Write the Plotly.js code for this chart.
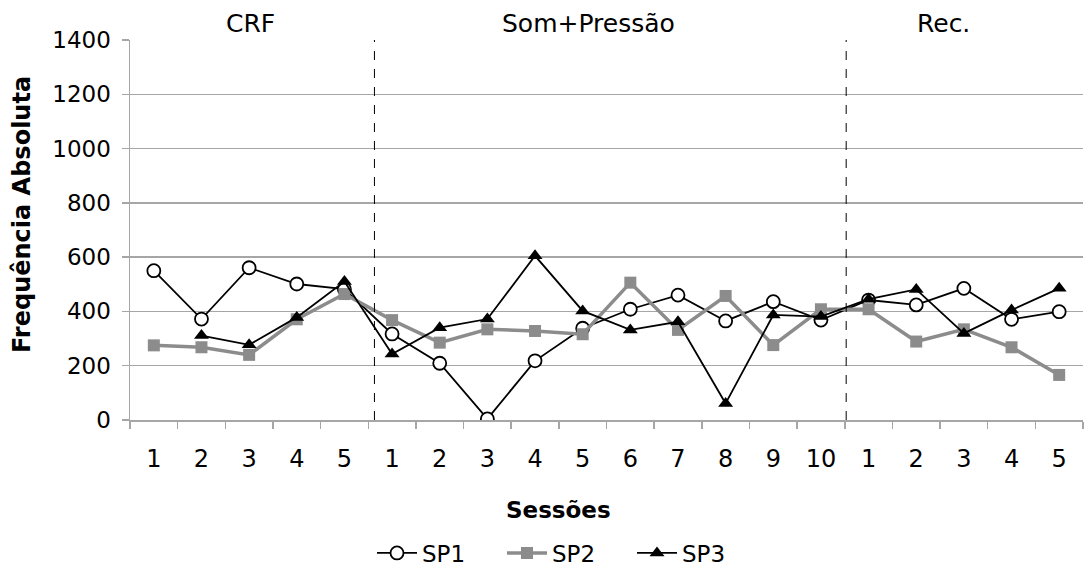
<!DOCTYPE html>
<html><head><meta charset="utf-8">
<script src="https://cdn.plot.ly/plotly-3.0.1.min.js"></script>
<style>html,body{margin:0;padding:0;background:#fff;}</style>
</head><body>
<div id="chart" style="width:1088px;height:572px;"></div>
<script>
const tickLabels = ["1","2","3","4","5","1","2","3","4","5","6","7","8","9","10","1","2","3","4","5"];
const sp1 = [550, 372, 561, 501, 482, 317, 209, 4, 218, 338, 408, 460, 365, 436, 368, 442, 424, 485, 371, 399];
const sp2 = [275, 268, 240, 371, 464, 368, 285, 334, 328, 316, 506, 332, 457, 276, 408, 408, 289, 334, 268, 166];
const sp3 = [null, 311, 277, 378, 510, 243, 340, 372, 605, 402, 332, 362, 61, 387, 381, 445, 481, 319, 405, 485];
const phases = ["CRF", "Som+Pressão", "Rec."];
const phasePos = [2.02, 9.13, 16.58];
const dividers = [4.63, 14.53];

const xs = tickLabels.map((_, i) => i);
const font = "DejaVu Sans, sans-serif";

const traces = [
  {x: xs, y: sp1, name: "SP1", mode: "lines+markers", type: "scatter",
   line: {color: "#000", width: 1.8},
   marker: {symbol: "circle", size: 13, color: "#fff", line: {color: "#000", width: 1.8}}},
  {x: xs, y: sp2, name: "SP2", mode: "lines+markers", type: "scatter",
   line: {color: "#8c8c8c", width: 3.5},
   marker: {symbol: "square", size: 12, color: "#8c8c8c", line: {width: 0}}},
  {x: xs, y: sp3, name: "SP3", mode: "lines+markers", type: "scatter",
   line: {color: "#000", width: 1.8},
   marker: {symbol: "triangle-up", size: 13, color: "#000", line: {width: 0}}}
];

const shapes = dividers.map(d => ({type: "line", xref: "x", yref: "paper", x0: d, x1: d, y0: 0, y1: 1,
  line: {color: "#000", width: 1, dash: "dash"}}));

const annotations = phases.map((p, i) => ({text: p, x: phasePos[i], xref: "x", y: 1, yref: "paper",
  yanchor: "bottom", yshift: 0, showarrow: false, font: {family: font, size: 25, color: "#000"}}));
annotations.push({text: "<b>Sessões</b>", x: (558 - 130) / 953, xref: "paper", y: (420 - 510) / 380, yref: "paper",
  xanchor: "center", yanchor: "middle", showarrow: false, font: {family: font, size: 23, color: "#000"}});
annotations.push({text: "<b>Frequência Absoluta</b>", x: (22 - 130) / 953, xref: "paper", y: (420 - 215) / 380, yref: "paper",
  xanchor: "center", yanchor: "middle", textangle: -90, showarrow: false, font: {family: font, size: 24, color: "#000"}});

const layout = {
  width: 1088, height: 572,
  margin: {l: 130, r: 5, t: 40, b: 152, autoexpand: false},
  paper_bgcolor: "#fff", plot_bgcolor: "#fff",
  font: {family: font, color: "#000", size: 22},
  showlegend: true,
  legend: {orientation: "h", xref: "container", yref: "container", x: 372 / 1088, xanchor: "left",
    y: (572 - 553) / 572, yanchor: "middle",
    font: {family: font, size: 23, color: "#000"}, tracegroupgap: 0,
    entrywidth: 75, entrywidthmode: "pixels", itemwidth: 40},
  xaxis: {range: [-0.5, 19.5], tickmode: "array", tickvals: xs, ticktext: tickLabels, automargin: false,
    ticks: "", showgrid: false, zeroline: false, showline: true, linecolor: "#a6a6a6", linewidth: 1.5,
    tickfont: {family: font, size: 24, color: "#000"}, ticklabelstandoff: 17,
    minor: {tick0: -0.5, dtick: 1, ticks: "outside", ticklen: 7, tickcolor: "#a6a6a6", tickwidth: 1.5, showgrid: false}},
  yaxis: {range: [0, 1400], dtick: 200, tick0: 0, ticks: "outside", ticklen: 7, tickcolor: "#a6a6a6", tickwidth: 1.5, automargin: false,
    showgrid: true, gridcolor: "#a6a6a6", gridwidth: 1.5, zeroline: false, showline: true, linecolor: "#a6a6a6", linewidth: 1.5,
    tickfont: {family: font, size: 23, color: "#000"}, ticklabelstandoff: 6},
  shapes: shapes,
  annotations: annotations
};

Plotly.newPlot("chart", traces, layout, {displayModeBar: false, staticPlot: true});
</script>
</body></html>
